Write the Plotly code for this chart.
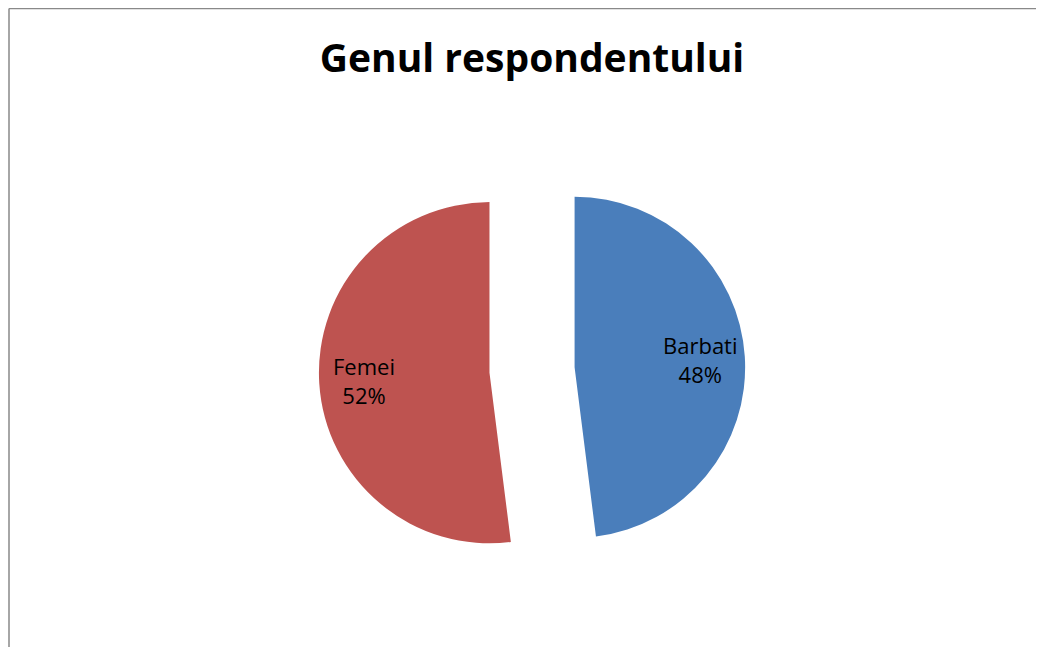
import math
import plotly.graph_objects as go

categories = ["Barbati", "Femei"]
values = [48, 52]
colors = ["#4A7EBB", "#BE5350"]
title_text = "Genul respondentului"

W, H = 1044, 647
PULL = 0.25
dom_x = [0.2970, 0.7069]
dom_y = [0.1110, 0.7700]

fig = go.Figure()
fig.add_trace(go.Pie(
    labels=categories,
    values=values,
    sort=False,
    direction="clockwise",
    rotation=0,
    pull=[PULL] * len(values),
    marker=dict(colors=colors, line=dict(width=0)),
    textinfo="none",
    showlegend=False,
    domain=dict(x=dom_x, y=dom_y),
    hoverinfo="skip",
))

# label positions derived from the data (slice bisectors)
cx = (dom_x[0] + dom_x[1]) / 2 * W
cy = (1 - (dom_y[0] + dom_y[1]) / 2) * H
side = min((dom_x[1] - dom_x[0]) * W, (dom_y[1] - dom_y[0]) * H)
r = side / 2 / (1 + PULL)
total = sum(values)
annotations = []
start = 90.0
for lab, v in zip(categories, values):
    sweep = 360.0 * v / total
    mid = math.radians(start - sweep / 2)
    start -= sweep
    dist = PULL * r + 0.74 * r
    px = cx + dist * math.cos(mid)
    py = cy - dist * math.sin(mid)
    annotations.append(dict(
        x=px / W, y=1 - py / H, xref="paper", yref="paper",
        text=f"{lab}<br>{round(100 * v / total)}%", showarrow=False,
        xanchor="center", yanchor="middle", align="center",
        font=dict(family="Open Sans", size=22, color="#000000"),
    ))

fig.update_layout(
    width=W, height=H,
    margin=dict(l=0, r=0, t=0, b=0),
    paper_bgcolor="white",
    plot_bgcolor="white",
    title=dict(text="<b>" + title_text + "</b>", x=524 / W, xanchor="center",
               y=1 - 50 / H, yanchor="middle",
               font=dict(family="Open Sans", size=39, color="#000000")),
    annotations=annotations,
    shapes=[
        dict(type="line", xref="paper", yref="paper",
             x0=1 / W, x1=1.05, y0=1 - 0.5 / H, y1=1 - 0.5 / H,
             line=dict(color="#898989", width=1.5)),
        dict(type="line", xref="paper", yref="paper",
             x0=1 / W, x1=1 / W, y0=-0.05, y1=1 - 0.5 / H,
             line=dict(color="#898989", width=1.5)),
    ],
)

fig.write_html("out.html")
